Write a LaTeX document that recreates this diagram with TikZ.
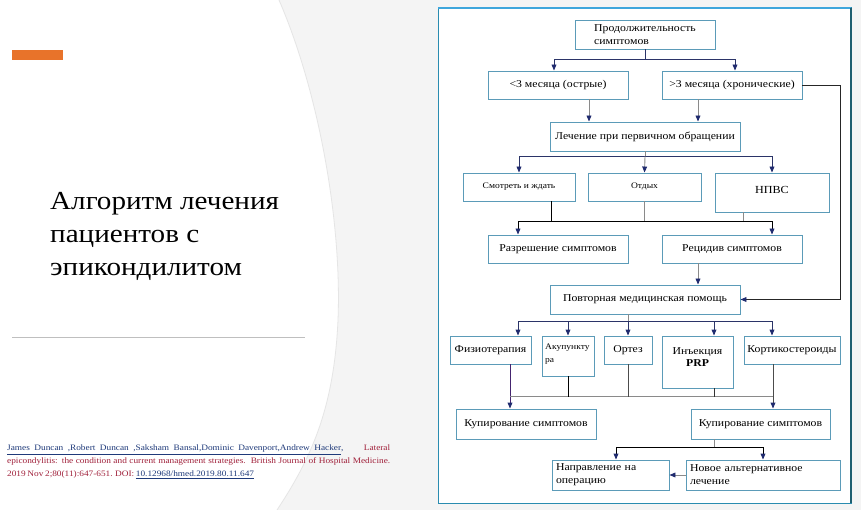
\documentclass[tikz,border=0pt]{standalone}
\usepackage{fontspec}
\setmainfont{Liberation Serif}[FakeStretch=1.12]
\usetikzlibrary{arrows.meta,calc}
\definecolor{slidebg}{HTML}{F4F4F4}
\definecolor{boxc}{HTML}{5B9BB8}
\definecolor{panelc}{HTML}{2A8CB0}
\definecolor{paneltop}{HTML}{3EA6DC}
\definecolor{panelright}{HTML}{1F5F70}
\definecolor{navy}{HTML}{1F2A6E}
\definecolor{lnav}{HTML}{2B3468}
\definecolor{lgray}{HTML}{8A8A8A}
\definecolor{citeblue}{HTML}{1F3A7A}
\definecolor{citered}{HTML}{A0203A}
\definecolor{orangebar}{HTML}{E8732A}
\tikzset{
  box/.style={draw=boxc, line width=0.9pt, fill=white, inner sep=2pt, font=\fontsize{10.5}{11.5}\selectfont},
  arr/.style={-{Triangle[length=6pt,width=4.8pt,color=navy]}, line width=0.9pt},
  ln/.style={line width=0.9pt, draw=lnav},
  lg/.style={line width=0.9pt, draw=lgray},
}
\begin{document}
\begin{tikzpicture}[x=1pt,y=-1pt]
\useasboundingbox (0,0) rectangle (861,510);
% background
\fill[slidebg] (0,0) rectangle (861,510);
\fill[white] (0,0) -- (279,0) .. controls (318,90) and (342,220) .. (338,320)
  .. controls (334,410) and (310,460) .. (277,510) -- (0,510) -- cycle;
\draw[black!10, line width=0.8pt] (279,0) .. controls (318,90) and (342,220) .. (338,320)
  .. controls (334,410) and (310,460) .. (277,510);
\fill[orangebar] (12,50) rectangle (63,60);
\draw[black!25, line width=0.8pt] (12,337) -- (305,337);
% title
\node[anchor=west, align=left, font=\fontsize{26}{33}\selectfont, inner sep=0pt] (title) at (50,236)
  {Алгоритм лечения\\пациентов с\\эпикондилитом};
% citation
\node[anchor=north west, inner sep=0pt, text width=383pt, align=justify,
  font=\fontsize{8.3}{13}\selectfont] (cite) at (7,445)
  {\spaceskip=0.2em plus 1em minus 0.05em
   \color{citeblue}\underline{\makebox[334pt][s]{James Duncan ,Robert Duncan ,Saksham Bansal,Dominic Davenport,Andrew Hacker}}, \color{citered}Lateral\linebreak epicondylitis: the condition and current management strategies. British Journal of Hospital Medicine.\linebreak 2019 Nov 2;80(11):647-651. DOI: \color{citeblue}\underline{10.12968/hmed.2019.80.11.647}};
% panel
\fill[white] (438,8) rectangle (851,503);
\draw[panelc, line width=1pt] (438,8) rectangle (851,503);
\draw[paneltop, line width=1.2pt] (438,8) -- (851,8);
\draw[panelright, line width=1.2pt] (851,8) -- (851,503);
% boxes
\node[box, minimum width=140, minimum height=29, align=left, font=\fontsize{10.5}{13.5}\selectfont] (b1) at (645,34.5) {Продолжительность\\симптомов};
\node[box, minimum width=140, minimum height=28] (b2) at (558,85) {<3 месяца (острые)};
\node[box, minimum width=140, minimum height=28] (b3) at (732,85) {>3 месяца (хронические)};
\node[box, minimum width=190, minimum height=29] (b4) at (645,136.5) {Лечение при первичном обращении};
\node[box, minimum width=112, minimum height=28, font=\fontsize{8.5}{10}\selectfont] (b5) at (519,187) {\raisebox{2.5pt}{Смотреть и ждать}};
\node[box, minimum width=113, minimum height=28, font=\fontsize{8.5}{10}\selectfont] (b6) at (644.5,187) {\raisebox{2.5pt}{Отдых}};
\node[box, minimum width=114, minimum height=39, font=\fontsize{10.8}{12}\selectfont] (b7) at (772,192.5) {\raisebox{5pt}{НПВС}};
\node[box, minimum width=140, minimum height=28] (b8) at (558,249) {Разрешение симптомов};
\node[box, minimum width=140, minimum height=28] (b9) at (732,249) {\raisebox{2pt}{Рецидив симптомов}};
\node[box, minimum width=190, minimum height=29] (b10) at (645,299.5) {Повторная медицинская помощь};
\node[box, minimum width=81, minimum height=28] (b11) at (490.5,350) {Физиотерапия};
\node[box, minimum width=52, minimum height=40] (b12) at (568,356) {};
\node[align=left, inner sep=0pt, font=\fontsize{8.5}{13}\selectfont, anchor=north west] (t12) at (545,343.5) {Акупункту\\ра};
\node[box, minimum width=48, minimum height=28] (b13) at (628,350) {Ортез};
\node[box, minimum width=71, minimum height=52] (b14) at (697.5,362) {};
\node[align=center, inner sep=0pt, font=\fontsize{10.5}{12}\selectfont, anchor=north] (t14) at (697.5,347) {Инъекция\\\textbf{PRP}};
\node[box, minimum width=96, minimum height=28] (b15) at (792,350) {Кортикостероиды};
\node[box, minimum width=140, minimum height=30] (b16) at (526,424) {Купирование симптомов};
\node[box, minimum width=139, minimum height=30] (b17) at (760.5,424) {Купирование симптомов};
\node[box, minimum width=117, minimum height=30, align=left, text width=109pt, font=\fontsize{10.5}{13}\selectfont] (b18) at (610.5,475) {Направление на\\операцию};
\node[box, minimum width=154, minimum height=30, align=left, text width=146pt, font=\fontsize{10.5}{13}\selectfont] (b19) at (763,475) {Новое альтернативное\\лечение};
% connectors level 1
\draw[ln] (b1.south) -- ++(0,10) coordinate (j1);
\draw[ln,arr] (j1) -| ($(b2.north)+(-4,0)$);
\draw[ln,arr] (j1) -| ($(b3.north)+(3,0)$);
% to b4
\coordinate (p2) at ($(b2.south)+(31,0)$);
\coordinate (p3) at ($(b3.south)+(-34,0)$);
\draw[lg,arr] (p2) -- (p2 |- b4.north);
\draw[lg,arr] (p3) -- (p3 |- b4.north);
% chronic bypass
\draw[ln,draw=black!85,arr] (b3.east) -- ++(38,0) |- (b10.east);
% level 3
\draw[lg] (b4.south) -- ++(0,5) coordinate (j2);
\draw[ln,arr] (j2) -| (b5.north);
\draw[ln,arr] (j2) -| (b7.north);
\draw[lg,arr] (j2) -- (b6.north);
% to b8/b9
\coordinate (p5) at ($(b5.south)+(32,0)$);
\coordinate (p7) at ($(b7.south)+(-29,0)$);
\coordinate (j3) at ($(b6.south)+(0,20)$);
\draw[ln,draw=black] (p5) -- (p5 |- j3);
\draw[lg] (b6.south) -- (j3);
\draw[lg] (p7) -- (p7 |- j3);
\coordinate (a8) at ($(b8.north)+(-40,0)$);
\coordinate (a9) at ($(b9.north)+(40,0)$);
\draw[ln,draw=black,arr] (p7 |- j3) -| (a9);
\draw[ln,draw=black,arr] (p5 |- j3) -| (a8);
\draw[ln,draw=black] (p5 |- j3) -- (p7 |- j3);
% to b10
\coordinate (p9) at ($(b9.south)+(-34,0)$);
\draw[lg,arr] (p9) -- (p9 |- b10.north);
% level 5
\coordinate (p10) at ($(b10.south)+(-17,0)$);
\coordinate (j4) at ($(p10)+(0,7)$);
\draw[lg] (p10) -- (j4);
\coordinate (a11) at ($(b11.north)+(27.5,0)$);
\coordinate (a14) at ($(b14.north)+(16.5,0)$);
\coordinate (a15) at ($(b15.north)+(-20,0)$);
\draw[ln,arr] (j4) -| (a11);
\draw[ln,arr] (j4) -| (b12.north);
\draw[ln,arr] (j4) -- (j4 -| b13.north) -- (b13.north);
\draw[ln,arr] (j4) -| (a14);
\draw[ln,arr] (j4) -| (a15);
% level 6
\coordinate (p11) at ($(b11.south)+(19.5,0)$);
\coordinate (p15) at ($(b15.south)+(-19,0)$);
\coordinate (j5) at ($(b16.north)+(0,-12)$);
\draw[ln,draw=lnav!70!violet,arr] (p11) -- (p11 |- b16.north);
\draw[ln,draw=black!70,arr] (p15) -- (p15 |- b17.north);
\draw[lg] (p11 |- j5) -- (p15 |- j5);
\draw[ln,draw=black] (b12.south) -- (b12.south |- j5);
\draw[ln,draw=black!70] (b13.south) -- (b13.south |- j5);
\coordinate (p14) at ($(b14.south)+(16.5,0)$);
\draw[ln,draw=black!80] (p14) -- (p14 |- j5);
% level 7
\coordinate (p17) at ($(b17.south)+(-46.5,0)$);
\coordinate (j6) at ($(p17)+(0,8)$);
\draw[lg] (p17) -- (j6);
\draw[ln,draw=black,arr] (j6) -| ($(b18.north)+(5.5,0)$);
\draw[ln,draw=black,arr] (j6) -| (b19.north);
\draw[lg,arr] (b19.west) -- (b18.east);
\end{tikzpicture}
\end{document}
